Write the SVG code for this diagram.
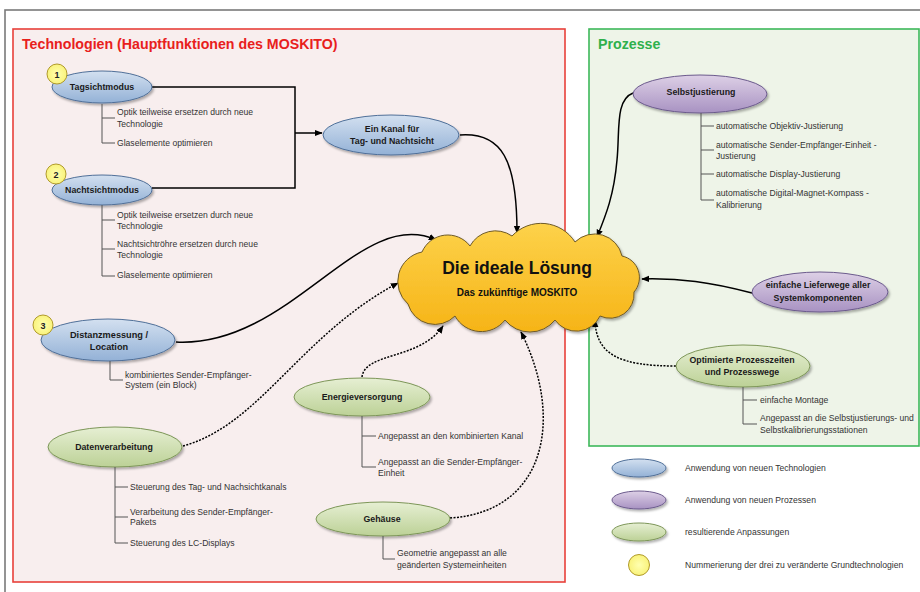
<svg xmlns="http://www.w3.org/2000/svg" width="920" height="592" viewBox="0 0 920 592">
<defs>
<style>
.lbl{font-family:"Liberation Sans",Arial,sans-serif;font-weight:bold;font-size:8.8px;fill:#1a1a1a;text-anchor:middle}
.txt{font-family:"Liberation Sans",Arial,sans-serif;font-size:8.6px;fill:#333}
.num{font-family:"Liberation Sans",Arial,sans-serif;font-weight:bold;font-size:9px;fill:#222;text-anchor:middle}
.title{font-family:"Liberation Sans",Arial,sans-serif;font-weight:bold;font-size:14.2px}
.tree{stroke:#555;stroke-width:1;fill:none}
.conn{stroke:#000;stroke-width:1.5;fill:none}
.dot{stroke-dasharray:2 1.4}
.blue{fill:url(#gBlue);stroke:#4f6f98;stroke-width:1}
.purple{fill:url(#gPurple);stroke:#6b5a8c;stroke-width:1}
.green{fill:url(#gGreen);stroke:#7d9658;stroke-width:1}
.badge{fill:url(#gYellow);stroke:#b09a2a;stroke-width:1}
</style>
<linearGradient id="gBlue" x1="0" y1="0" x2="0" y2="1"><stop offset="0" stop-color="#d3e0f0"/><stop offset="1" stop-color="#93b1d6"/></linearGradient>
<linearGradient id="gPurple" x1="0" y1="0" x2="0" y2="1"><stop offset="0" stop-color="#ddd0e6"/><stop offset="1" stop-color="#a892c2"/></linearGradient>
<linearGradient id="gGreen" x1="0" y1="0" x2="0" y2="1"><stop offset="0" stop-color="#e6efd3"/><stop offset="1" stop-color="#bcd196"/></linearGradient>
<radialGradient id="gYellow" cx="0.5" cy="0.5" r="0.6"><stop offset="0" stop-color="#ffffb0"/><stop offset="1" stop-color="#f8f070"/></radialGradient>
<linearGradient id="gCloud" x1="0" y1="0" x2="0" y2="1"><stop offset="0" stop-color="#fdd24a"/><stop offset="1" stop-color="#f6b417"/></linearGradient>
<filter id="sh" x="-20%" y="-30%" width="140%" height="170%"><feDropShadow dx="1.5" dy="2" stdDeviation="1.3" flood-color="#000" flood-opacity="0.3"/></filter>
<marker id="ah" viewBox="0 0 10 10" refX="9" refY="5" markerWidth="8" markerHeight="8" markerUnits="userSpaceOnUse" orient="auto"><path d="M0,1 L10,5 L0,9 z" fill="#000"/></marker>
</defs>
<rect x="0" y="0" width="920" height="592" fill="#fff"/>
<rect x="5" y="10" width="925" height="600" fill="none" stroke="#7a7a7a" stroke-width="1.6"/>

<g id="panel-tech">
<rect x="13" y="29" width="552" height="553" fill="#f8eeee" stroke="#e8403a" stroke-width="1.6"/>
<text class="title" x="22" y="49" fill="#e8201c">Technologien (Hauptfunktionen des MOSKITO)</text>
</g>
<g id="panel-proc">
<rect x="589" y="29" width="330" height="417" fill="#eef4e8" stroke="#3db85a" stroke-width="1.6"/>
<text class="title" x="598" y="49" fill="#2fb04c">Prozesse</text>
</g>

<g id="connectors">
<path class="conn" d="M152,87 H295 V188 H152"/>
<path class="conn" d="M295,133 H322" marker-end="url(#ah)"/>
<path class="conn" d="M460,135 C502,132 517,160 517,233" marker-end="url(#ah)"/>
<path class="conn" d="M176,342 C290,348 360,205 436,240" marker-end="url(#ah)"/>
<path class="conn dot" d="M183,446 C260,425 300,335 398,283" marker-end="url(#ah)"/>
<path class="conn dot" d="M362,377 C365,352 420,360 443,326" marker-end="url(#ah)"/>
<path class="conn dot" d="M450,518 C545,512 565,420 521,332" marker-end="url(#ah)"/>
<path class="conn" d="M633,93 C615,100 620,130 617,160 C614,195 606,215 597,237" marker-end="url(#ah)"/>
<path class="conn" d="M752,293 C710,282 680,278 642,279" marker-end="url(#ah)"/>
<path class="conn dot" d="M676,366 C620,366 596,355 595,320" marker-end="url(#ah)"/>
</g>

<g id="cloud">
<path d="M422,252 A28,28 0 0 1 470,246 A29,29 0 0 1 512,236 A40,40 0 0 1 575,242 A28,28 0 0 1 622,256 A22,22 0 0 1 634,292 A24,24 0 0 1 600,316 A26,26 0 0 1 555,320 A32,32 0 0 1 505,320 A30,30 0 0 1 455,316 A28,28 0 0 1 408,304 A30,30 0 0 1 422,252 Z" fill="url(#gCloud)" stroke="#6e5a28" stroke-width="1" filter="url(#sh)"/>
<text x="517" y="274" font-family="Liberation Sans, Arial, sans-serif" font-weight="bold" font-size="17.5" fill="#111" text-anchor="middle">Die ideale Lösung</text>
<text x="517" y="296" font-family="Liberation Sans, Arial, sans-serif" font-weight="bold" font-size="10" fill="#111" text-anchor="middle">Das zukünftige MOSKITO</text>
</g>

<g id="tagsicht">
<ellipse class="blue" cx="102" cy="87" rx="50" ry="16" filter="url(#sh)"/>
<text class="lbl" x="102" y="90">Tagsichtmodus</text>
<circle class="badge" cx="57" cy="74" r="10"/>
<text class="num" x="57" y="77.5">1</text>
<path class="tree" d="M102,104 V143 H115 M102,118 H115"/>
<text class="txt" x="117" y="115">Optik teilweise ersetzen durch neue</text>
<text class="txt" x="117" y="127">Technologie</text>
<text class="txt" x="117" y="146">Glaselemente optimieren</text>
</g>

<g id="nachtsicht">
<ellipse class="blue" cx="102" cy="190" rx="50" ry="15" filter="url(#sh)"/>
<text class="lbl" x="102" y="193">Nachtsichtmodus</text>
<circle class="badge" cx="56" cy="174" r="10"/>
<text class="num" x="56" y="177.5">2</text>
<path class="tree" d="M102,205 V276 H115 M102,220 H115 M102,249 H115"/>
<text class="txt" x="117" y="218">Optik teilweise ersetzen durch neue</text>
<text class="txt" x="117" y="229">Technologie</text>
<text class="txt" x="117" y="247">Nachtsichtröhre ersetzen durch neue</text>
<text class="txt" x="117" y="258">Technologie</text>
<text class="txt" x="117" y="278">Glaselemente optimieren</text>
</g>

<g id="kanal">
<ellipse class="blue" cx="391" cy="135" rx="68" ry="20" filter="url(#sh)"/>
<text class="lbl" x="392" y="132">Ein Kanal für</text>
<text class="lbl" x="392" y="144">Tag- und Nachtsicht</text>
</g>

<g id="distanz">
<ellipse class="blue" cx="108" cy="340" rx="67" ry="21" filter="url(#sh)"/>
<text class="lbl" x="109" y="338" style="font-size:9.2px">Distanzmessung /</text>
<text class="lbl" x="109" y="350" style="font-size:9.2px">Location</text>
<circle class="badge" cx="43" cy="325" r="10"/>
<text class="num" x="43" y="328.5">3</text>
<path class="tree" d="M110,361 V380 H123"/>
<text class="txt" x="125" y="378">kombiniertes Sender-Empfänger-</text>
<text class="txt" x="125" y="388">System (ein Block)</text>
</g>

<g id="daten">
<ellipse class="green" cx="115" cy="447" rx="67" ry="20" filter="url(#sh)"/>
<text class="lbl" x="114" y="450">Datenverarbeitung</text>
<path class="tree" d="M115,467 V543 H128 M115,487 H128 M115,517 H128"/>
<text class="txt" x="130" y="490">Steuerung des Tag- und Nachsichtkanals</text>
<text class="txt" x="130" y="515">Verarbeitung des Sender-Empfänger-</text>
<text class="txt" x="130" y="525">Pakets</text>
<text class="txt" x="130" y="546">Steuerung des LC-Displays</text>
</g>

<g id="energie">
<ellipse class="green" cx="362" cy="397" rx="68" ry="19" filter="url(#sh)"/>
<text class="lbl" x="362" y="400">Energieversorgung</text>
<path class="tree" d="M362,416 V467 H376 M362,436 H376"/>
<text class="txt" x="378" y="439">Angepasst an den kombinierten Kanal</text>
<text class="txt" x="378" y="465">Angepasst an die Sender-Empfänger-</text>
<text class="txt" x="378" y="476">Einheit</text>
</g>

<g id="gehaeuse">
<ellipse class="green" cx="383" cy="519" rx="67" ry="17" filter="url(#sh)"/>
<text class="lbl" x="382" y="522">Gehäuse</text>
<path class="tree" d="M383,536 V559 H395"/>
<text class="txt" x="397" y="556">Geometrie angepasst an alle</text>
<text class="txt" x="397" y="568">geänderten Systemeinheiten</text>
</g>

<g id="selbst">
<ellipse class="purple" cx="700" cy="94" rx="67" ry="19" filter="url(#sh)"/>
<text class="lbl" x="701" y="95">Selbstjustierung</text>
<path class="tree" d="M701,113 V200 H714 M701,126 H714 M701,150 H714 M701,174 H714"/>
<text class="txt" x="716" y="129">automatische Objektiv-Justierung</text>
<text class="txt" x="716" y="148">automatische Sender-Empfänger-Einheit -</text>
<text class="txt" x="716" y="159">Justierung</text>
<text class="txt" x="716" y="177">automatische Display-Justierung</text>
<text class="txt" x="716" y="196">automatische Digital-Magnet-Kompass -</text>
<text class="txt" x="716" y="208">Kalibrierung</text>
</g>

<g id="liefer">
<ellipse class="purple" cx="820" cy="292" rx="68" ry="20" filter="url(#sh)"/>
<text class="lbl" x="818" y="288">einfache Lieferwege aller</text>
<text class="lbl" x="818" y="301">Systemkomponenten</text>
</g>

<g id="optim">
<ellipse class="green" cx="743" cy="366" rx="67" ry="21" filter="url(#sh)"/>
<text class="lbl" x="742" y="363">Optimierte Prozesszeiten</text>
<text class="lbl" x="742" y="375">und Prozesswege</text>
<path class="tree" d="M743,387 V424 H757 M743,400 H757"/>
<text class="txt" x="760" y="403">einfache Montage</text>
<text class="txt" x="760" y="421">Angepasst an die Selbstjustierungs- und</text>
<text class="txt" x="760" y="433">Selbstkalibrierungsstationen</text>
</g>

<g id="legend">
<ellipse class="blue" cx="639" cy="468" rx="27" ry="9" filter="url(#sh)"/>
<text class="txt" x="685" y="471">Anwendung von neuen Technologien</text>
<ellipse class="purple" cx="639" cy="500" rx="27" ry="9" filter="url(#sh)"/>
<text class="txt" x="685" y="503">Anwendung von neuen Prozessen</text>
<ellipse class="green" cx="639" cy="532" rx="27" ry="9" filter="url(#sh)"/>
<text class="txt" x="685" y="535">resultierende Anpassungen</text>
<circle class="badge" cx="639" cy="565" r="10.5"/>
<text class="txt" x="685" y="568">Nummerierung der drei zu veränderte Grundtechnologien</text>
</g>
</svg>
